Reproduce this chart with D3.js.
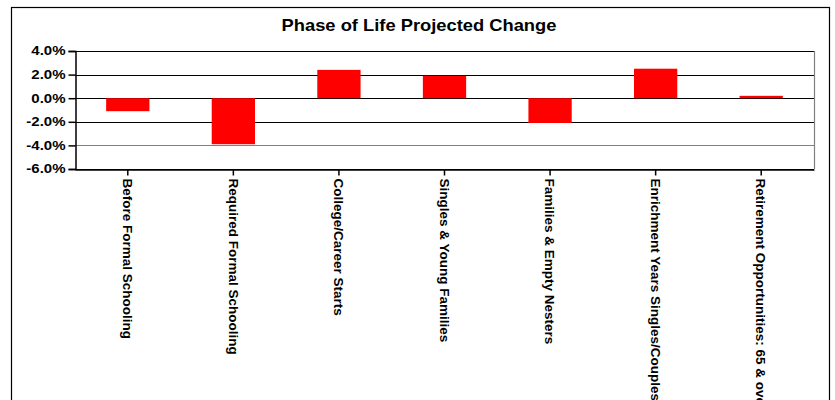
<!DOCTYPE html>
<html>
<head>
<meta charset="utf-8">
<script src="https://cdn.jsdelivr.net/npm/d3@7"></script>
<style>
  body { margin: 0; background: #fff; }
  svg { display: block; font-family: Arial, "Liberation Sans", sans-serif; }
</style>
</head>
<body>
<div id="chart"></div>
<script>
// chart data
var categories = [
  "Before Formal Schooling",
  "Required Formal Schooling",
  "College/Career Starts",
  "Singles & Young Families",
  "Families & Empty Nesters",
  "Enrichment Years Singles/Couples",
  "Retirement Opportunities: 65 & over"
];
var values = [-1.1, -3.9, 2.4, 1.9, -2.1, 2.5, 0.2];
var yTicks = [-6, -4, -2, 0, 2, 4];

var width = 835,
  height = 400;
var margin = { top: 51, right: 21, bottom: 231, left: 75 };

// the reference text looks a bit wider than normal Arial, stretch it
function stretch(sel, k) {
  sel.each(function () {
    var len = this.getComputedTextLength();
    d3.select(this)
      .attr("textLength", len * k)
      .attr("lengthAdjust", "spacingAndGlyphs");
  });
}

var svg = d3
  .select("div#chart")
  .append("svg")
  .attr("width", width)
  .attr("height", height);

// outer chart frame
svg
  .append("rect")
  .attr("x", 11.5)
  .attr("y", 7.5)
  .attr("width", 818)
  .attr("height", 420)
  .attr("fill", "none")
  .attr("stroke", "#000")
  .attr("stroke-width", 1.2);

svg
  .append("text")
  .attr("x", 419)
  .attr("y", 31)
  .attr("text-anchor", "middle")
  .style("font-size", "16.5px")
  .style("font-weight", "bold")
  .text("Phase of Life Projected Change")
  .call(stretch, 1.11);

var y = d3
  .scaleLinear()
  .domain([-6, 4])
  .range([height - margin.bottom, margin.top]);

var x = d3
  .scaleBand()
  .domain(categories)
  .range([margin.left, width - margin.right])
  .paddingInner(0.59)
  .paddingOuter(0.295);

// gridlines
svg
  .append("g")
  .attr("class", "grid")
  .selectAll("line")
  .data(yTicks)
  .join("line")
  .attr("x1", margin.left)
  .attr("x2", width - margin.right)
  .attr("y1", (d) => Math.round(y(d)) + 0.5)
  .attr("y2", (d) => Math.round(y(d)) + 0.5)
  .attr("stroke", (d) => (d == -4 ? "#808080" : "#000"))
  .attr("stroke-width", 1.2);

// right edge of plot area
svg
  .append("line")
  .attr("x1", width - margin.right + 0.5)
  .attr("x2", width - margin.right + 0.5)
  .attr("y1", margin.top)
  .attr("y2", height - margin.bottom)
  .attr("stroke", "#808080")
  .attr("stroke-width", 1.2);

svg
  .append("g")
  .attr("class", "bars")
  .attr("fill", "#ff0000")
  .selectAll("rect")
  .data(values)
  .join("rect")
  .attr("x", (d, i) => x(categories[i]))
  .attr("y", (d) => y(Math.max(0, d)))
  .attr("width", x.bandwidth())
  .attr("height", (d) => Math.abs(y(d) - y(0)));

function yAxis(g) {
  g.attr("transform", `translate(${margin.left + 0.5}, 0)`)
    .call(
      d3
        .axisLeft(y)
        .tickValues(yTicks)
        .tickFormat((d) => d.toFixed(1) + "%")
        .tickSize(7)
        .tickPadding(3)
    )
    .call((g) => g.selectAll("path,line").attr("stroke", "#000").attr("stroke-width", 1.5))
    .selectAll("text")
    .attr("fill", "#000")
    .style("font-size", "12px")
    .style("font-weight", "bold")
    .call(stretch, 1.25);
}

function xAxis(g) {
  g.attr("transform", `translate(0, ${height - margin.bottom + 0.5})`)
    .call(d3.axisBottom(x).tickSize(6).tickSizeOuter(0))
    .call((g) => g.selectAll("path,line").attr("stroke", "#000").attr("stroke-width", 1.5))
    .selectAll("text")
    .attr("fill", "#000")
    .style("font-size", "13.5px")
    .style("font-weight", "bold")
    .attr("transform", "rotate(90)")
    .attr("x", 9)
    .attr("y", 0)
    .attr("dy", "0.35em")
    .style("text-anchor", "start");
}

svg.append("g").attr("class", "yAxis").call(yAxis);
svg.append("g").attr("class", "xAxis").call(xAxis);
</script>
</body>
</html>
